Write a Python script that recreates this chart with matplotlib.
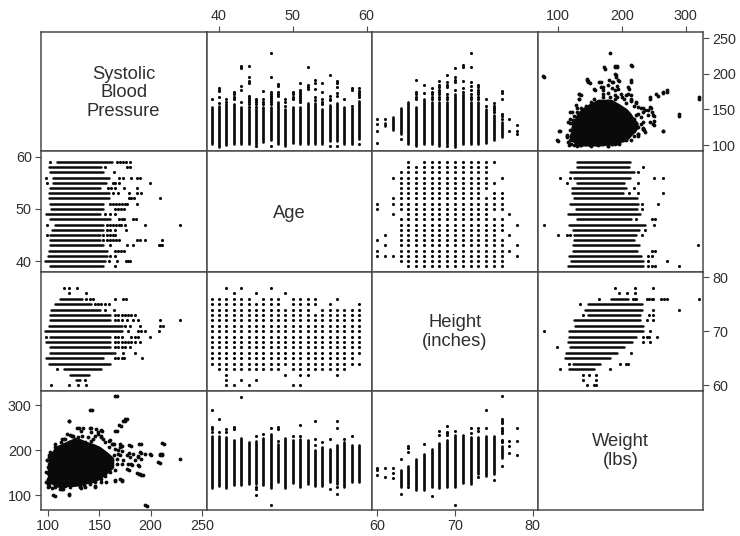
import matplotlib
matplotlib.use("Agg")
import matplotlib.pyplot as plt

plt.rcParams['font.family'] = ['Liberation Sans', 'DejaVu Sans']

# ---- data ----
AGES = [39,40,41,42,43,44,45,46,47,48,49,50,51,52,53,54,55,56,57,58,59]
sbp_lo = [102,97,100,101,102,102,102,104,107,102,98,103,102,101,101,102,105,105,102,101,109]
sbp_hi = [154,155,157,157,154,151,151,154,154,160,151,154,154,159,159,151,156,159,154,152,162]
sbp_extra = [[165],[159,167,176,178,180],[160,165],[165,168,171,174],[160,177,183,208,209,211],
             [154,157,160,163,166,169,187,190,195,211],[99,154,157,160,163,165],[157,160,165,176],
             [99,157,160,163,166,169,171,175,195,229],[169,172,174,183,186],[155,160,165],
             [165,168,171,174],[160,163,166,169,172,175,177,187],[179,181,184,209],[163,168,179,187,191],
             [158,161,165,174,187],[99,163,165,169,199],[98,169,173,181,187,190],[164],[155,177,180],
             [102,167,170,173,176,180]]

wt_by_age_lo = [116,120,117,124,124,126,126,124,117,130,116,128,119,126,122,122,130,126,119,130,130]
wt_by_age_hi = [233,233,230,224,227,219,222,227,236,215,228,224,226,224,202,207,204,213,219,211,213]
wt_by_age_extra = [[290,252,247,241],[270,241],[247,241],[252,247],[319],[],[231,119,115,100],[236],
                   [250,78],[252,247,222],[],[231],[256,231],[],[265,226,211],[219],[226,114],
                   [265,250,119,104],[226],[233],[]]

HEIGHTS = [60,61,62,63,64,65,66,67,68,69,70,71,72,73,74,75,76,77,78]
sbp_h_lo = [None,127,121,115,101,98,102,102,98,102,97,101,102,102,103,107,111,None,None]
sbp_h_hi = [None,131,140,152,160,154,165,160,160,160,172,172,160,160,151,142,133,None,None]
sbp_h_extra = [[103,120,129,137],[136],[],[109],[],[165,168,172,174,192],[173,185],[165,168,172,175,180],
               [165,168,172,175,178,181,185,190],[98,165,168,172,181,185,188,199],[178,188,191,195,208],
               [175,180,190,209,212],[165,168,172,177,183,188,209,229],[165,168,172,175,178,181,185],
               [155,164],[146,149,152,155,159],[137,141,144,165,173,176],[120,137],[115,120,128]]

wt_h_lo = [None,None,None,118,124,111,113,119,116,118,118,127,126,148,143,148,183,None,None]
wt_h_hi = [None,None,None,156,166,182,192,203,216,223,234,234,229,229,231,231,210,None,None]
wt_h_extra = [[146,157,160],[140,160],[139,149,160],[103,182],[118,197,206,210],[],[215],[99],[234,244],
              [234,239,242,255],[78,244],[],[239,249],[140,243,249],[249,290],[135],
              [165,218,220,223,239,243,247,249,262,266,270,320],[195,209,220],[190,220,249]]

ages_at_height = [
    [41,42,44,50,51],
    [41,43,45],
    [41,49,51,52,56],
    [40,41,42,43,44,45,46,47,48,50,51,52,53,54,55,56,57],
    [39,40,41,42,43,44,45,46,47,48,49,50,51,52,53,54,55,56,57,58,59],
    [39,40,41,42,43,44,45,46,47,48,49,50,51,52,53,54,55,56,57,58],
    [39,40,41,42,43,44,45,46,47,48,49,50,51,52,53,54,55,56,57,58,59],
    [39,40,41,42,43,44,45,46,47,48,49,50,51,52,53,54,55,56,57,58,59],
    [39,40,41,42,43,44,45,46,47,48,49,50,51,52,53,54,55,56,57,58,59],
    [39,40,41,42,43,44,45,46,47,48,49,50,51,52,53,54,55,56,57,58,59],
    [39,40,41,42,43,44,45,46,47,48,49,50,51,52,53,54,55,56,57,58,59],
    [39,40,41,42,43,44,45,46,47,48,49,50,51,52,53,54,55,56,57,58,59],
    [39,40,41,42,43,44,45,46,47,48,49,50,51,52,53,54,55,56,57,58,59],
    [39,40,41,42,43,44,45,46,47,48,49,50,51,52,53,54,55,56,57,58,59],
    [39,40,41,42,43,44,45,46,47,48,49,50,51,52,54,55,56,57,58,59],
    [39,40,41,42,43,44,45,46,47,48,50,51,52,53,55,59],
    [39,40,41,42,43,44,46,47,48,50,51,52,53,56],
    [42,45,49],
    [41,43,47],
]

blob_sbp = [100,102,107,112,118,124,131,137,144,150,157,163]
blob_wt_lo = [140,130,122,119,122,122,124,128,131,138,150,163]
blob_wt_hi = [165,185,207,212,218,224,224,218,213,207,195,183]
edge_sbp = [165,141,120,175,173,169,165,105,120,195,229,211,209,209,207,199,195,189,179,
            128,134,141,147,152,121,124,142,149,154,159,164,170,170,168,170,167,172,173,177,180,183,188,190,185,181,178,177,188,187,190,191,170,165,172,152,146,131,113,107,98,99,102,107,113,118,115,
            209,211,211,213,200,197,193,189,189,191,188,191,191,181,167,171,175,177,167,143,120,120,107,142,130,
            172,165,179,182,179,172,172,163,160,152,153,144,123,132,135,146,156,132,114,
            101,101,100,100,101,101,103,100,100,104,101,103,
            103,107,110,112,115,116,120,123,126,129,133,136,139,142,146,149,152,155,159,162,165,168,164,162,167,165,160,155,150,152,146,141,136,131,126,121,116,111,107,103,100,98,100,99,102]
edge_wt = [320,290,265,270,265,256,244,100,104,78,181,216,193,189,174,191,191,215,211,
           250,250,250,248,246,235,233,241,237,226,222,215,215,207,200,189,181,170,178,189,185,193,185,196,178,170,170,158,167,150,147,146,137,133,133,136,122,119,115,119,130,178,196,215,226,237,226,
           173,190,193,215,190,77,146,147,165,180,187,194,215,210,244,254,265,270,320,290,265,102,99,249,249,
           134,134,157,168,194,199,210,215,223,233,244,225,233,244,124,119,129,116,114,
           121,128,135,150,170,185,195,118,125,116,190,178,
           193,207,200,219,211,226,219,233,226,230,233,219,230,222,233,241,230,219,207,215,204,193,189,178,170,156,152,144,141,130,130,126,119,122,126,119,122,115,122,130,137,152,163,178,185]

sbp_ticks = [100,150,200,250]
age_ticks = [40,50,60]
height_ticks = [60,70,80]
weight_ticks = [100,200,300]
sbp_lim = (92.6,254.9)
sbp_ylim = (91.6,258.4)
age_xlim = (38.33,60.73)
age_ylim = (37.95,61.1)
height_xlim = (59.3,80.7)
height_ylim = (58.96,80.98)
weight_xlim = (69.2,327.5)
weight_ylim = (67,332)

# ---- layout ----
W, H = 740, 536
xe = [40.7, 206.7, 372, 538, 703.3]
ye = [32.3, 151, 271.7, 391, 510.3]
FRAME = '#4a4a4a'
TXT = '#2f2f2f'
INK = '#0a0a0a'
S = 5.0
LW_V, LW_H = 1.95, 1.8

fig = plt.figure(figsize=(W/100, H/100), dpi=100)
axs = [[None]*4 for _ in range(4)]
xlims = [sbp_lim, age_xlim, height_xlim, weight_xlim]
ylims = [sbp_ylim, age_ylim, height_ylim, weight_ylim]
for r in range(4):
    for c in range(4):
        ax = fig.add_axes([xe[c]/W, 1-ye[r+1]/H, (xe[c+1]-xe[c])/W, (ye[r+1]-ye[r])/H])
        ax.set_xlim(xlims[c]); ax.set_ylim(ylims[r])
        ax.set_xticks([]); ax.set_yticks([])
        for s in ax.spines.values():
            s.set_color(FRAME); s.set_linewidth(1.1)
        axs[r][c] = ax

def ticks(ax, axis, where, vals):
    kw = dict(length=4, width=0.8, color=FRAME, labelcolor=TXT, labelsize=10.4, pad=2.5)
    if axis == 'x':
        ax.set_xticks(vals)
        ax.tick_params(axis='x', bottom=where=='bottom', top=where=='top',
                       labelbottom=where=='bottom', labeltop=where=='top', **kw)
    else:
        ax.set_yticks(vals)
        ax.tick_params(axis='y', left=where=='left', right=where=='right',
                       labelleft=where=='left', labelright=where=='right', **kw)

ticks(axs[3][0],'x','bottom',sbp_ticks)
ticks(axs[3][2],'x','bottom',height_ticks)
ticks(axs[0][1],'x','top',age_ticks)
ticks(axs[0][3],'x','top',weight_ticks)
ticks(axs[1][0],'y','left',age_ticks)
ticks(axs[3][0],'y','left',weight_ticks)
ticks(axs[0][3],'y','right',sbp_ticks)
ticks(axs[2][3],'y','right',height_ticks)

def pair(r, c, groups, lo, hi, extra):
    """r,c: panel with the group variable on x (vertical stacks);
    mirrored at c,r with horizontal stacks."""
    av, ah = axs[r][c], axs[c][r]
    for g, l, h, e in zip(groups, lo, hi, extra):
        if l is not None:
            av.vlines(g, l, h, color=INK, lw=LW_V, capstyle='round')
            ah.hlines(g, l, h, color=INK, lw=LW_H, capstyle='round')
        av.scatter([g]*len(e), e, s=S, c=INK, linewidths=0)
        ah.scatter(e, [g]*len(e), s=S, c=INK, linewidths=0)

pair(0, 1, AGES, sbp_lo, sbp_hi, sbp_extra)
pair(3, 1, AGES, wt_by_age_lo, wt_by_age_hi, wt_by_age_extra)
pair(0, 2, HEIGHTS, sbp_h_lo, sbp_h_hi, sbp_h_extra)
pair(3, 2, HEIGHTS, wt_h_lo, wt_h_hi, wt_h_extra)

# Age vs Height grid
for h, ages in zip(HEIGHTS, ages_at_height):
    axs[2][1].scatter(ages, [h]*len(ages), s=S, c=INK, linewidths=0)
    axs[1][2].scatter([h]*len(ages), ages, s=S, c=INK, linewidths=0)

# SBP vs Weight cloud
axs[3][0].fill_between(blob_sbp, blob_wt_lo, blob_wt_hi, color=INK, lw=1.5)
axs[0][3].fill_betweenx(blob_sbp, blob_wt_lo, blob_wt_hi, color=INK, lw=1.5)
axs[3][0].scatter(edge_sbp, edge_wt, s=S*1.5, c=INK, linewidths=0)
axs[0][3].scatter(edge_wt, edge_sbp, s=S*1.5, c=INK, linewidths=0)

labels = ["Systolic\nBlood\nPressure", "Age", "Height\n(inches)", "Weight\n(lbs)"]
label_y = [0.49, 0.485, 0.495, 0.495]
for i, lab in enumerate(labels):
    axs[i][i].text(0.5, label_y[i], lab, transform=axs[i][i].transAxes, ha='center', va='center',
                   fontsize=13.2, color=TXT, linespacing=1.14)

fig.savefig('out.png', dpi=100)
